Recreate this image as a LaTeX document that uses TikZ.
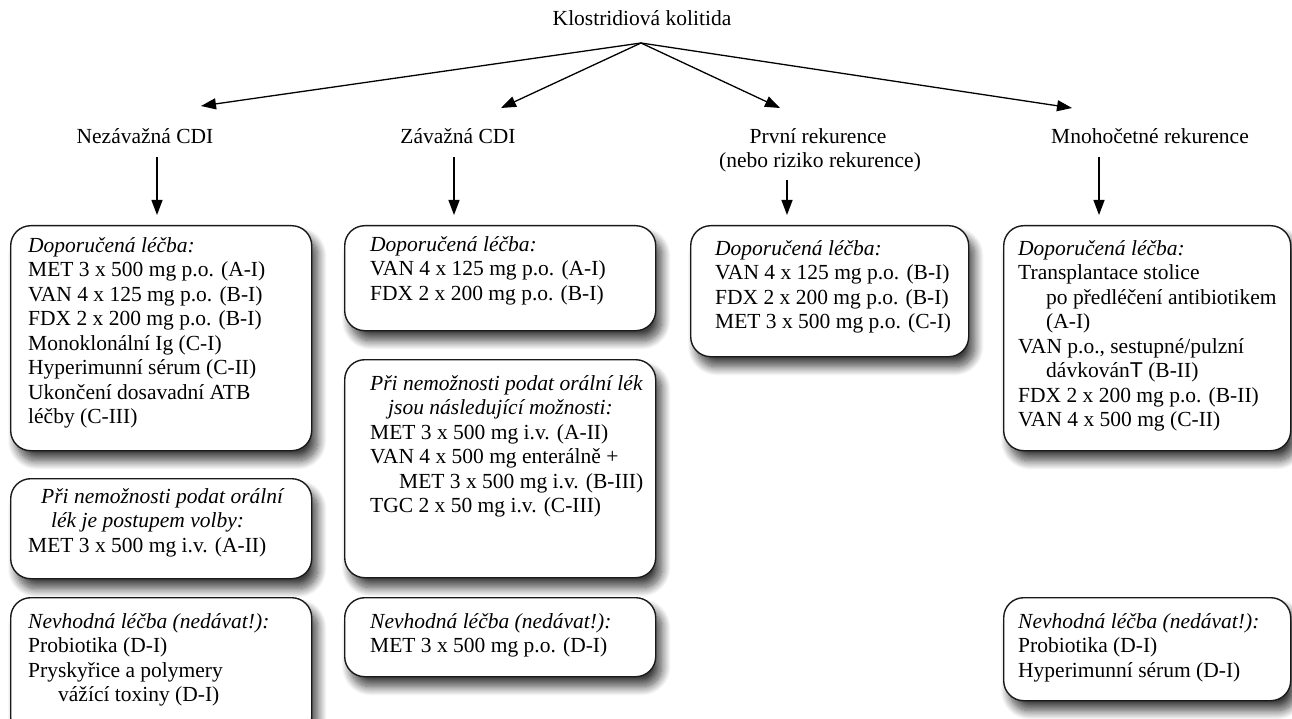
\documentclass[tikz,border=0pt]{standalone}
\usepackage{fontspec}
\setmainfont{Liberation Serif}
\newfontfamily\sansT{Liberation Sans}
\usetikzlibrary{arrows.meta,shadows.blur,calc}
\begin{document}
\begin{tikzpicture}[x=1pt,y=-1pt,
  font=\fontsize{21.5}{24.45}\selectfont,
  box/.style={draw=black!90, line width=1.4pt, rounded corners=20pt, fill=white,
    anchor=north west, inner sep=0pt,
    blur shadow={shadow xshift=6pt, shadow yshift=-10pt, shadow blur radius=9pt,
      shadow blur steps=16, shadow opacity=75}},
  txt/.style={anchor=north west, inner sep=0pt, align=left},
  lbl/.style={anchor=base, inner sep=0pt},
  arr/.style={-{Triangle[length=15pt,width=11pt]}, line width=1.3pt},
]
\useasboundingbox (0,0) rectangle (1292,719);

% title and category labels
\node[lbl] (title) at (642,26) {Klostridiová kolitida};
\coordinate (apex) at (641,43);
\node[lbl] (l1) at (145,144) {Nezávažná CDI};
\node[lbl] (l2) at (458,144) {Závažná CDI};
\node[lbl] (l3) at (818,144) {První rekurence};
\node[lbl] (l3b) at (820,168) {(nebo riziko rekurence)};
\node[lbl] (l4) at (1150,144) {Mnohočetné rekurence};

\coordinate (t1) at (201,106);
\coordinate (t2) at (501,108);
\coordinate (t3) at (780,108);
\coordinate (t4) at (1072,108);
\draw[arr] (apex) -- (t1);
\draw[arr] (apex) -- (t2);
\draw[arr] (apex) -- (t3);
\draw[arr] (apex) -- (t4);

% boxes
\node[box, minimum width=301pt, minimum height=225pt] (a1) at (10,225) {};
\node[box, minimum width=301pt, minimum height=100pt] (a2) at (10,478) {};
\node[box, minimum width=301pt, minimum height=140pt] (a3) at (10,597) {};
\node[box, minimum width=311pt, minimum height=105pt] (b1) at (344,225) {};
\node[box, minimum width=311pt, minimum height=218pt] (b2) at (344,359) {};
\node[box, minimum width=311pt, minimum height=79pt] (b3) at (344,597) {};
\node[box, minimum width=278pt, minimum height=131pt] (c1) at (690,225) {};
\node[box, minimum width=287pt, minimum height=225pt] (d1) at (1003,225) {};
\node[box, minimum width=287pt, minimum height=103pt] (d3) at (1003,597) {};

% vertical arrows
\coordinate (v1) at (157,157);
\coordinate (v2) at (454,157);
\coordinate (v3) at (787,180);
\coordinate (v4) at (1099,157);
\draw[arr, shorten >=10pt] (v1) -- (v1 |- a1.north);
\draw[arr, shorten >=10pt] (v2) -- (v2 |- b1.north);
\draw[arr, shorten >=10pt] (v3) -- (v3 |- c1.north);
\draw[arr, shorten >=10pt] (v4) -- (v4 |- d1.north);

% texts
\node[txt] (a1t) at (28,235) {\strut\textit{Doporučená léčba:}\\
MET 3 x 500 mg p.o. (A-I)\\
VAN 4 x 125 mg p.o. (B-I)\\
FDX 2 x 200 mg p.o. (B-I)\\
Monoklonální Ig (C-I)\\
Hyperimunní sérum (C-II)\\
Ukončení dosavadní ATB\\
léčby (C-III)};

\node[txt] (a2t) at (28,486) {\strut\hspace*{13pt}\textit{Při nemožnosti podat orální}\\
\hspace*{23pt}\textit{lék je postupem volby:}\\
MET 3 x 500 mg i.v. (A-II)};

\node[txt] (a3t) at (28,611) {\strut\textit{Nevhodná léčba (nedávat!):}\\
Probiotika (D-I)\\
Pryskyřice a polymery\\
\hspace*{30pt}vážící toxiny (D-I)};

\node[txt] (b1t) at (370,234) {\strut\textit{Doporučená léčba:}\\
VAN 4 x 125 mg p.o. (A-I)\\
FDX 2 x 200 mg p.o. (B-I)};

\node[txt] (b2t) at (370,373) {\strut\textit{Při nemožnosti podat orální lék}\\
\hspace*{18pt}\textit{jsou následující možnosti:}\\
MET 3 x 500 mg i.v. (A-II)\\
VAN 4 x 500 mg enterálně +\\
\hspace*{29pt}MET 3 x 500 mg i.v. (B-III)\\
TGC 2 x 50 mg i.v. (C-III)};

\node[txt] (b3t) at (370,611) {\strut\textit{Nevhodná léčba (nedávat!):}\\
MET 3 x 500 mg p.o. (D-I)};

\node[txt] (c1t) at (715,238) {\strut\textit{Doporučená léčba:}\\
VAN 4 x 125 mg p.o. (B-I)\\
FDX 2 x 200 mg p.o. (B-I)\\
MET 3 x 500 mg p.o. (C-I)};

\node[txt] (d1t) at (1018,238) {\strut\textit{Doporučená léčba:}\\
Transplantace stolice\\
\hspace*{28pt}po předléčení antibiotikem\\
\hspace*{28pt}(A-I)\\
VAN p.o., sestupné/pulzní\\
\hspace*{28pt}dávkován{\sansT T} (B-II)\\
FDX 2 x 200 mg p.o. (B-II)\\
VAN 4 x 500 mg (C-II)};

\node[txt] (d3t) at (1018,611) {\strut\textit{Nevhodná léčba (nedávat!):}\\
Probiotika (D-I)\\
Hyperimunní sérum (D-I)};
\end{tikzpicture}
\end{document}
